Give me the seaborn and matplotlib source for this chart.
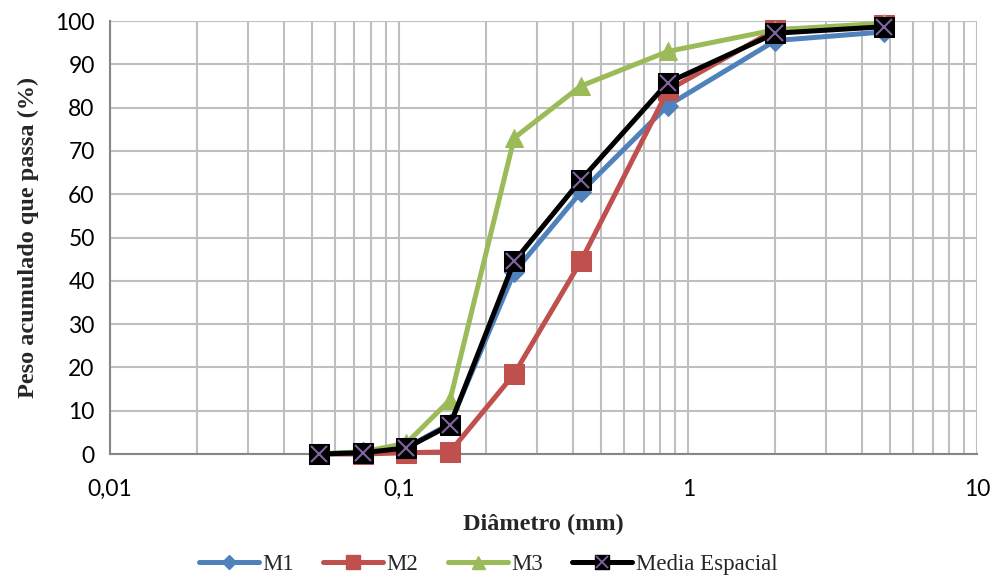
import matplotlib
matplotlib.use("Agg")
import matplotlib.pyplot as plt
from matplotlib.lines import Line2D
from matplotlib.ticker import FixedLocator, FuncFormatter, NullFormatter, LogLocator
import seaborn as sns
import pandas as pd

# Sieve openings (mm) and cumulative percent passing
diametro = [0.053, 0.075, 0.106, 0.15, 0.25, 0.425, 0.85, 2.0, 4.75]
m1 = [0.0, 0.5, 1.5, 7.0, 42.0, 60.5, 80.5, 95.5, 97.5]
m2 = [0.0, 0.0, 0.3, 0.5, 18.5, 44.5, 84.0, 98.0, 99.0]
m3 = [0.0, 0.5, 2.5, 12.5, 73.0, 85.0, 93.0, 98.0, 99.5]
media = [0.0, 0.3, 1.4, 6.7, 44.5, 63.3, 85.8, 97.2, 98.7]

series_names = ["M1", "M2", "M3", "Media Espacial"]
x_ticks = [0.01, 0.1, 1, 10]
x_tick_labels = ["0,01", "0,1", "1", "10"]
y_ticks = list(range(0, 101, 10))

df = pd.DataFrame({
    "Diâmetro": diametro * 4,
    "Passante": m1 + m2 + m3 + media,
    "Amostra": sum([[n] * len(diametro) for n in series_names], []),
})

sns.set_theme(style="white")
plt.rcParams["font.family"] = ["Liberation Serif", "DejaVu Serif"]

colors = {"M1": "#4F81BD", "M2": "#C0504D", "M3": "#9BBB59", "Media Espacial": "#000000"}
markers = {"M1": "D", "M2": "s", "M3": "^", "Media Espacial": "s"}
msizes = {"M1": 10, "M2": 14, "M3": 13, "Media Espacial": 14}
cross_color = "#8064A2"

fig = plt.figure(figsize=(9.96, 5.78), dpi=100)
ax = fig.add_axes([0.1104, 0.2145, 0.871, 0.749])

for name in series_names:
    sub = df[df["Amostra"] == name]
    sns.lineplot(data=sub, x="Diâmetro", y="Passante", ax=ax, color=colors[name],
                 linewidth=3.6, marker=markers[name], markersize=msizes[name],
                 markeredgecolor=colors[name], markerfacecolor=colors[name],
                 clip_on=False, zorder=3 + series_names.index(name), legend=False)

# purple cross drawn on top of the black squares
sub = df[df["Amostra"] == "Media Espacial"]
ax.plot(sub["Diâmetro"], sub["Passante"], linestyle="none", marker="x",
        markersize=12, markeredgewidth=1.5, color=cross_color, clip_on=False, zorder=10)

ax.set_xscale("log")
ax.set_xlim(0.01, 10)
ax.set_ylim(0, 100)
ax.xaxis.set_major_locator(FixedLocator(x_ticks))
ax.xaxis.set_major_formatter(FuncFormatter(lambda v, p: x_tick_labels[x_ticks.index(v)] if v in x_ticks else ""))
ax.xaxis.set_minor_locator(LogLocator(base=10, subs=range(2, 10)))
ax.xaxis.set_minor_formatter(NullFormatter())
ax.set_yticks(y_ticks)

grid_c = "#BFBFBF"
ax.grid(True, which="major", axis="both", color=grid_c, linewidth=1.5)
ax.grid(True, which="minor", axis="x", color=grid_c, linewidth=1.5)
ax.set_axisbelow(True)

for side in ["top", "right"]:
    ax.spines[side].set_visible(False)
for side in ["left", "bottom"]:
    ax.spines[side].set_color("#868686")
    ax.spines[side].set_linewidth(1.5)

ax.tick_params(axis="both", which="major", direction="out", length=6, width=1.2,
               color="#868686", labelsize=16.5)
ax.tick_params(axis="x", which="major", pad=12)
ax.tick_params(axis="y", which="major", pad=5)
ax.tick_params(axis="x", which="minor", length=0)
for lbl in ax.get_xticklabels() + ax.get_yticklabels():
    lbl.set_fontfamily(["Lato", "DejaVu Sans"])
    lbl.set_color("#000000")

ax.set_xlabel("Diâmetro (mm)", fontsize=17.5, fontweight="bold", labelpad=10)
ax.set_ylabel("Peso acumulado que passa (%)", fontsize=17.5, fontweight="bold", labelpad=12)

handles = []
for name in series_names:
    h = Line2D([], [], color=colors[name], linewidth=3.6, marker=markers[name],
               markersize=msizes[name] * 0.72, markerfacecolor=colors[name],
               markeredgecolor=colors[name])
    if name == "Media Espacial":
        hx = Line2D([], [], linestyle="none", marker="x", markersize=9,
                    markeredgewidth=1.3, color=cross_color)
        h = (h, hx)
    handles.append(h)

fig.legend(handles, series_names, loc="lower center", bbox_to_anchor=(0.49, -0.03),
           ncol=4, frameon=False, fontsize=16.5, handlelength=2.6, columnspacing=1.3,
           handletextpad=0.15)

fig.savefig("out.png", dpi=100)
